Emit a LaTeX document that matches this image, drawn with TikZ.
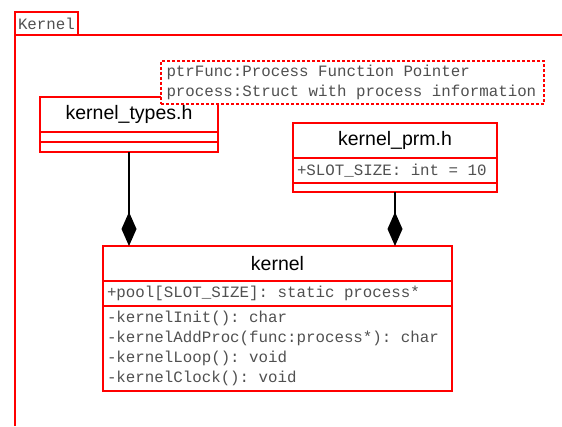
\documentclass[tikz,border=0pt]{standalone}
\usepackage{fontspec}
\usepackage{tikz}
\usepackage{xcolor}
\usetikzlibrary{positioning, arrows.meta}
\newfontfamily\umlsans{Liberation Sans}
\newfontfamily\umlmono{Liberation Mono}
\definecolor{umlred}{HTML}{FF0000}
\definecolor{umlgray}{HTML}{505050}

\begin{document}
\begin{tikzpicture}[x=1pt, y=1pt, node distance=0pt,
    box/.style={draw=umlred, line width=2pt, outer sep=0pt, inner sep=0pt},
    classname/.style={box, minimum height=35pt, font=\umlsans\fontsize{19.5}{23}\selectfont},
    members/.style={box, inner xsep=4pt, align=left, text=umlgray, font=\umlmono\fontsize{15.8}{20}\selectfont,
      execute at begin node={\spaceskip=0.6em\xspaceskip=0.6em\relax}},
    composition/.style={-{Diamond[length=34pt, width=15pt]}, line width=2pt, black}]
        \useasboundingbox (0,0) rectangle (562,426);
        % package frame
        \node[members, inner xsep=3pt, minimum height=23pt, anchor=north west] (pkgtab) at (15,414) {Kernel};
        \coordinate (framebottom) at (15,0);
        \coordinate (frameright) at (562,391);
        \draw[umlred, line width=2pt] (framebottom) -- (pkgtab.south west) -- (frameright);

        \node[classname, minimum width=178pt] (types) at (129,311.5) {kernel\_types.h};
        \node[box, minimum width=178pt, minimum height=10pt, below=of types] (typesattr) {};
        \node[box, minimum width=178pt, minimum height=10pt, below=of typesattr] (typesops) {};

        \node[classname, minimum width=204pt] (prm) at (395,285.5) {kernel\_prm.h};
        \node[members, text width=196pt, minimum height=25pt, below=of prm] (prmattr) {+SLOT\_SIZE: int = 10};
        \node[box, minimum width=204pt, minimum height=9pt, below=of prmattr] (prmops) {};

        \node[classname, minimum width=349pt] (kname) at (277.5,162.5) {kernel};
        \node[members, text width=341pt, minimum height=25pt, below=of kname] (kattr) {+pool[SLOT\_SIZE]: static process*};
        \node[members, text width=341pt, minimum height=85pt, below=of kattr] (kops) {-kernelInit(): char\\-kernelAddProc(func:process*): char\\-kernelLoop(): void\\-kernelClock(): void};

        % note over the header box
        \node[members, fill=white, dash pattern=on 3pt off 2pt, inner xsep=5.5pt, text width=372pt, minimum height=43pt] (note) at (352.5,343.5) {ptrFunc:Process Function Pointer\\process:Struct with process information};

        \draw[composition] (typesops.south) -- (typesops.south |- kname.north);
        \draw[composition] (prmops.south) -- (prmops.south |- kname.north);
      \end{tikzpicture}
\end{document}
